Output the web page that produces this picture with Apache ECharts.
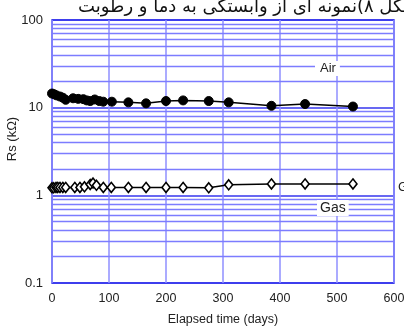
<!DOCTYPE html>
<html><head><meta charset="utf-8">
<script src="https://cdn.jsdelivr.net/npm/echarts@6/dist/echarts.min.js"></script>
<style>html,body{margin:0;padding:0;background:#fff}#c{width:404px;height:331px}</style>
</head><body><div id="c"></div>
<script>
const airDays = [0, 4, 8, 14, 19, 24, 37, 46, 55, 61, 67, 75, 83, 90, 105, 134, 165, 200, 230, 275, 310, 385, 444, 528];
const airRs   = [14.5, 14.2, 13.8, 13.4, 13.0, 12.3, 12.8, 12.6, 12.5, 12.1, 11.9, 12.4, 11.9, 11.7, 11.7, 11.5, 11.2, 11.9, 12.1, 11.9, 11.5, 10.5, 11.0, 10.3];
const gasDays = [0, 3, 7, 10, 14, 19, 24, 40, 49, 57, 67, 72, 78, 90, 104, 134, 165, 200, 230, 275, 310, 385, 444, 528];
const gasRs   = [1.22, 1.22, 1.23, 1.23, 1.23, 1.23, 1.23, 1.23, 1.23, 1.25, 1.33, 1.38, 1.30, 1.23, 1.23, 1.23, 1.23, 1.23, 1.23, 1.22, 1.32, 1.35, 1.35, 1.35];
const xTicks = [0, 100, 200, 300, 400, 500, 600];
const yTicks = [0.1, 1, 10, 100];
const minorGrid = [0.2,0.3,0.4,0.5,0.6,0.7,0.8,0.9,2,3,4,5,6,7,8,9,20,30,40,50,60,70,80,90];
const titleText = 'شکل ۸)نمونه ای از وابستگی به دما و رطوبت';
const yName = 'Rs (kΩ)';

const font = "'Liberation Sans',Arial,sans-serif";
const chart = echarts.init(document.getElementById('c'), null, {renderer:'canvas'});
chart.setOption({
  animation:false,
  grid:{left:52,right:10,top:20,bottom:48,outerBoundsMode:'none',containLabel:false,show:true,borderColor:'#2222e6',borderWidth:1.5,backgroundColor:'transparent'},
  xAxis:{type:'value',min:0,max:600,interval:100,
    axisLine:{show:false},axisTick:{show:false},
    axisLabel:{color:'#222',fontFamily:font,fontSize:12.5,margin:9,hideOverlap:false,
      formatter:v=>xTicks.includes(v)?String(v):''},
    splitLine:{show:true,lineStyle:{color:'#8f8fff',width:1.5}},
    name:'Elapsed time (days)',nameLocation:'middle',nameGap:30,nameMoveOverlap:false,
    nameTextStyle:{color:'#222',fontFamily:font,fontSize:12.5}},
  yAxis:{type:'log',logBase:10,min:0.1,max:100,
    axisLine:{show:false},axisTick:{show:false},
    axisLabel:{color:'#222',fontFamily:font,fontSize:13,margin:9,
      formatter:v=>{const r=yTicks.find(t=>Math.abs(t-v)/t<1e-6);return r!==undefined?String(r):'';}},
    splitLine:{show:true,lineStyle:{color:'#3636ee',width:1.6}}},
  series:[
    {type:'line',data:[],z:1,silent:true,
     markLine:{silent:true,symbol:'none',animation:false,label:{show:false},
       lineStyle:{color:'#7c7cff',width:1.3,type:'solid'},
       emphasis:{disabled:true},
       data:minorGrid.map(v=>({yAxis:v}))}},
    {type:'line',name:'Air',data:airDays.map((d,i)=>[d,airRs[i]]),z:5,
     symbol:'circle',symbolSize:9,lineStyle:{color:'#000',width:1.5},
     itemStyle:{color:'#000',borderColor:'#000'}},
    {type:'line',name:'Gas',data:gasDays.map((d,i)=>[d,gasRs[i]]),z:5,
     symbol:'diamond',symbolSize:[8,10],lineStyle:{color:'#000',width:1.5},
     itemStyle:{color:'#fff',borderColor:'#000',borderWidth:1.6}}
  ],
  graphic:[
    {type:'text',x:12.5,y:139,rotation:Math.PI/2,z:10,style:{text:yName,fontFamily:font,fontSize:13,fill:'#222',align:'center',verticalAlign:'middle'}},
    {type:'text',left:315,top:61,z:10,style:{text:'Air',fontFamily:font,fontSize:13,fill:'#222',backgroundColor:'#fff',padding:[1,4,1,5]}},
    {type:'text',left:317,top:200,z:10,style:{text:'Gas',fontFamily:font,fontSize:14,fill:'#222',backgroundColor:'#fff',padding:[1,3,1,3]}},
    {type:'text',x:398,y:181,z:10,style:{text:'G',fontFamily:font,fontSize:13,fill:'#222'}},
    {type:'text',x:418,y:16,z:10,style:{text:titleText,fontFamily:"'DejaVu Sans',sans-serif",fontSize:18,fill:'#111',align:'right',verticalAlign:'bottom'}}
  ]
});
</script></body></html>
